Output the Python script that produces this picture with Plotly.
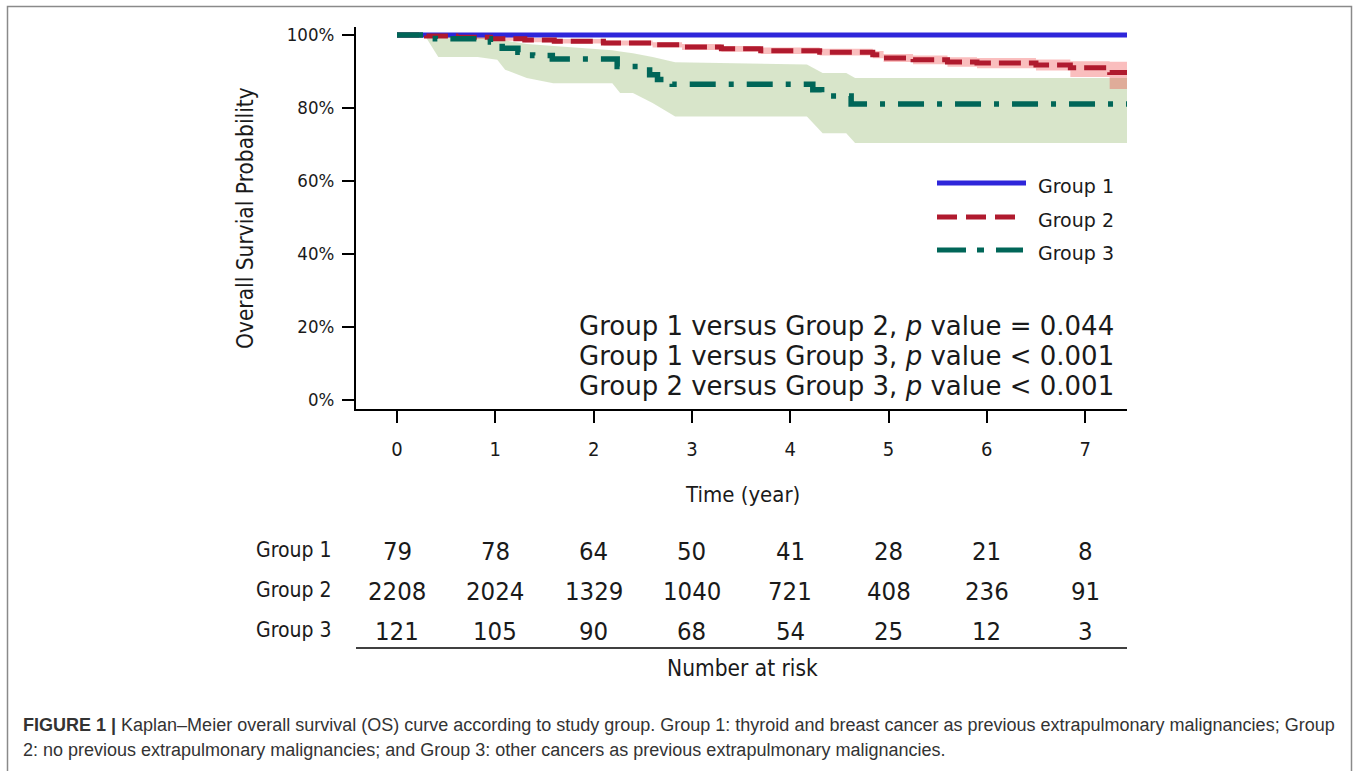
import plotly.graph_objects as go

# ---------------- data ----------------
risk_times = [0, 1, 2, 3, 4, 5, 6, 7]
risk_g1 = [79, 78, 64, 50, 41, 28, 21, 8]
risk_g2 = [2208, 2024, 1329, 1040, 721, 408, 236, 91]
risk_g3 = [121, 105, 90, 68, 54, 25, 12, 3]
group_names = ["Group 1", "Group 2", "Group 3"]

g1_time = [0, 7.43]
g1_surv = [1.0, 1.0]

g2_time = [0, 0.3, 0.6, 0.95, 1.3, 1.6, 2.1, 2.6, 2.9, 3.3, 3.7, 4.3, 4.84, 4.95,
           5.25, 5.6, 5.9, 6.5, 6.85, 7.25, 7.43]
g2_surv = [1.0, 0.997, 0.994, 0.99, 0.986, 0.983, 0.978, 0.973, 0.967, 0.962, 0.957,
           0.953, 0.946, 0.937, 0.932, 0.926, 0.923, 0.918, 0.91, 0.897, 0.897]
g2_upper = [1.0, 1.0, 0.999, 0.996, 0.992, 0.989, 0.985, 0.98, 0.975, 0.97, 0.966,
            0.962, 0.956, 0.948, 0.944, 0.939, 0.937, 0.933, 0.928, 0.927, 0.927]
g2_lower = [1.0, 0.993, 0.989, 0.984, 0.98, 0.977, 0.971, 0.966, 0.959, 0.954, 0.948,
            0.944, 0.936, 0.926, 0.92, 0.913, 0.909, 0.903, 0.885, 0.852, 0.852]

g3_time = [0, 0.39, 0.95, 1.07, 1.23, 1.38, 1.58, 2.24, 2.57, 2.65, 2.8, 4.23, 4.32,
           4.62, 7.43]
g3_surv = [1.0, 0.99, 0.981, 0.964, 0.953, 0.944, 0.934, 0.914, 0.891, 0.878, 0.865,
           0.85, 0.833, 0.811, 0.811]

g3_band_time = [0, 0.28, 0.42, 0.82, 1.02, 1.1, 1.32, 1.59, 2.19, 2.27, 2.4, 2.6, 2.83,
                4.17, 4.33, 4.57, 4.66, 7.43]
g3_lower = [1.0, 1.0, 0.94, 0.94, 0.932, 0.905, 0.882, 0.868, 0.868, 0.841, 0.841,
            0.814, 0.777, 0.777, 0.731, 0.731, 0.704, 0.704]
g3_upper = [1.0, 1.0, 1.0, 1.0, 0.99, 0.985, 0.975, 0.97, 0.958, 0.955, 0.95, 0.94,
            0.925, 0.919, 0.896, 0.896, 0.882, 0.882]

pvalue_lines = [
    "Group 1 versus Group 2, <i>p</i> value = 0.044",
    "Group 1 versus Group 3, <i>p</i> value < 0.001",
    "Group 2 versus Group 3, <i>p</i> value < 0.001",
]
caption_lines = [
    "<b>FIGURE 1 |</b> Kaplan–Meier overall survival (OS) curve according to study group. "
    "Group 1: thyroid and breast cancer as previous extrapulmonary malignancies; Group",
    "2: no previous extrapulmonary malignancies; and Group 3: other cancers as previous "
    "extrapulmonary malignancies.",
]

# ---------------- style ----------------
BLUE = "rgb(46,38,218)"
RED = "rgb(176,26,46)"
GREEN = "rgb(0,102,88)"
PINK_FILL = "rgba(240,40,40,0.30)"
GREEN_FILL = "rgba(110,160,60,0.27)"
COND = "DejaVu Sans Condensed, Liberation Sans Narrow, sans-serif"
SANS = "DejaVu Sans, Verdana, sans-serif"
CAP = "Liberation Sans, Arial, sans-serif"
TXT = "#1a1a1a"

W, H = 1358, 771
L, R, T, B = 356, 1127, 27, 409


def pxx(xp):
    return (xp - L) / (R - L)


def pxy(yp):
    return (B - yp) / (B - T)


fig = go.Figure()

# confidence bands
fig.add_trace(go.Scatter(x=g3_band_time, y=g3_lower, mode="lines", line=dict(width=0),
                         hoverinfo="skip", showlegend=False))
fig.add_trace(go.Scatter(x=g3_band_time, y=g3_upper, mode="lines", line=dict(width=0),
                         fill="tonexty", fillcolor=GREEN_FILL, hoverinfo="skip",
                         showlegend=False))
fig.add_trace(go.Scatter(x=g2_time, y=g2_lower, mode="lines", line=dict(width=0, shape="hv"),
                         hoverinfo="skip", showlegend=False))
fig.add_trace(go.Scatter(x=g2_time, y=g2_upper, mode="lines", line=dict(width=0, shape="hv"),
                         fill="tonexty", fillcolor=PINK_FILL, hoverinfo="skip",
                         showlegend=False))

# survival curves
fig.add_trace(go.Scatter(x=g1_time, y=g1_surv, mode="lines", name="Group 1",
                         line=dict(color=BLUE, width=5, shape="hv"), showlegend=False))
fig.add_trace(go.Scatter(x=g2_time, y=g2_surv, mode="lines", name="Group 2",
                         line=dict(color=RED, width=5, shape="hv", dash="22px,8px"),
                         showlegend=False))
fig.add_trace(go.Scatter(x=g3_time, y=g3_surv, mode="lines", name="Group 3",
                         line=dict(color=GREEN, width=5.5, shape="hv",
                                   dash="26px,13px,5px,13px"),
                         showlegend=False))

annotations = []
shapes = []

# legend (manual)
legend_y = [183, 217, 250]
legend_dash = ["solid", "20px,9px", "29px,11px,7px,12px"]
legend_col = [BLUE, RED, GREEN]
legend_x1 = [1026, 1018, 1023]
for i, name in enumerate(group_names):
    shapes.append(dict(type="line", xref="paper", yref="paper",
                       x0=pxx(937), x1=pxx(legend_x1[i]),
                       y0=pxy(legend_y[i]), y1=pxy(legend_y[i]),
                       line=dict(color=legend_col[i], width=5, dash=legend_dash[i])))
    annotations.append(dict(xref="paper", yref="paper", x=pxx(1036), y=pxy(legend_y[i] + 3),
                            xanchor="left", yanchor="middle", showarrow=False,
                            text=name, font=dict(family=SANS, size=19, color=TXT)))

# p values
for i, line in enumerate(pvalue_lines):
    annotations.append(dict(xref="paper", yref="paper", x=pxx(1116), y=pxy(326 + 30 * i),
                            xanchor="right", yanchor="middle", showarrow=False,
                            text=line, font=dict(family=SANS, size=26, color=TXT)))

# axis titles
annotations.append(dict(xref="paper", yref="paper", x=pxx(245), y=pxy(218),
                        xanchor="center", yanchor="middle", showarrow=False, textangle=-90,
                        text="Overall Survial Probability",
                        font=dict(family=COND, size=22.5, color=TXT)))
annotations.append(dict(xref="paper", yref="paper", x=pxx(742), y=pxy(494),
                        xanchor="center", yanchor="middle", showarrow=False,
                        text="Time (year)", font=dict(family=COND, size=22, color=TXT)))

# number at risk table
row_y = [550, 590, 630]
for gi, (name, vals) in enumerate(zip(group_names, [risk_g1, risk_g2, risk_g3])):
    annotations.append(dict(xref="paper", yref="paper", x=pxx(334), y=pxy(row_y[gi]),
                            xanchor="right", yanchor="middle", showarrow=False,
                            text=name, font=dict(family=COND, size=21, color=TXT)))
    for t, v in zip(risk_times, vals):
        annotations.append(dict(xref="x", yref="paper", x=t, y=pxy(row_y[gi] + 1),
                                xanchor="center", yanchor="middle", showarrow=False,
                                text=str(v), font=dict(family=COND, size=25.5, color=TXT)))
shapes.append(dict(type="line", xref="paper", yref="paper", x0=0, x1=1,
                   y0=pxy(648), y1=pxy(648), line=dict(color="black", width=1.5)))
annotations.append(dict(xref="paper", yref="paper", x=pxx(742), y=pxy(668),
                        xanchor="center", yanchor="middle", showarrow=False,
                        text="Number at risk", font=dict(family=COND, size=22.5, color=TXT)))

# caption
for i, line in enumerate(caption_lines):
    annotations.append(dict(xref="paper", yref="paper", x=pxx(21), y=pxy(725 + 25 * i),
                            xanchor="left", yanchor="middle", showarrow=False,
                            text=line, font=dict(family=CAP, size=18, color="#333333")))

# outer frame (left, top, right)
shapes.append(dict(type="path", xref="paper", yref="paper",
                   path="M {} {} L {} {} L {} {} L {} {}".format(
                       pxx(7.5), pxy(790), pxx(7.5), pxy(6.5), pxx(1351.5), pxy(6.5),
                       pxx(1351.5), pxy(790)),
                   line=dict(color="#8a8a8a", width=1.5)))

fig.update_layout(
    width=W, height=H,
    margin=dict(l=L, r=W - R, t=T, b=H - B, pad=0),
    paper_bgcolor="white", plot_bgcolor="white",
    showlegend=False,
    hovermode=False,
    annotations=annotations,
    shapes=shapes,
    xaxis=dict(range=[(L - 397) / 98.3, (R - 397) / 98.3], tickvals=risk_times,
               showgrid=False, zeroline=False, showline=True, linecolor="black",
               linewidth=2, ticks="outside", ticklen=12, tickwidth=1.5, tickcolor="black",
               ticklabelstandoff=9,
               tickfont=dict(family=COND, size=20, color=TXT)),
    yaxis=dict(range=[(400 - B) / 365, (400 - T) / 365], tickvals=[0, 0.2, 0.4, 0.6, 0.8, 1.0],
               tickformat=".0%", showgrid=False, zeroline=False, showline=True,
               linecolor="black", linewidth=2, ticks="outside", ticklen=12, tickwidth=1.5,
               tickcolor="black", ticklabelstandoff=4,
               tickfont=dict(family=COND, size=18.5, color=TXT)),
)

fig.write_html("out.html", config={"displayModeBar": False},
               post_script="document.body.style.margin='0px';")
